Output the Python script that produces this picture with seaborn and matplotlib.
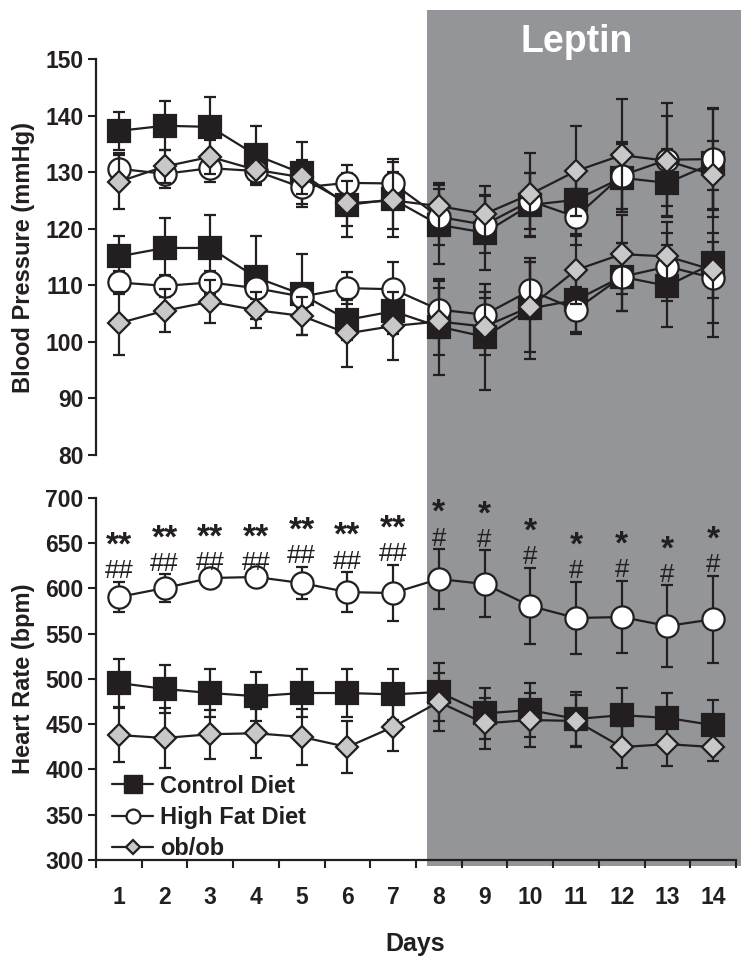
import numpy as np
import pandas as pd
import matplotlib
matplotlib.use("Agg")
import matplotlib.pyplot as plt
import matplotlib.transforms as mtransforms
from matplotlib.patches import Rectangle
from matplotlib.lines import Line2D
import seaborn as sns

# ---------------- data ----------------
days = list(range(1, 15))
day_labels = [str(d) for d in days]
series_names = ["Control Diet", "High Fat Diet", "ob/ob"]

# Blood pressure, upper group (mmHg)
bp_hi_control = [137.3, 138.2, 138.0, 133.0, 129.8, 124.2, 125.2, 120.7, 119.3, 124.2, 125.1, 129.0, 128.1, 131.6]
bp_hi_control_sd = [3.4, 4.3, 5.3, 5.2, 5.5, 5.6, 6.6, 7.0, 6.6, 5.6, 6.0, 6.0, 6.0, 9.5]
bp_hi_hfd = [130.6, 129.7, 130.7, 130.2, 127.3, 128.1, 128.0, 122.1, 120.7, 124.9, 122.1, 129.4, 132.2, 132.3]
bp_hi_hfd_sd = [2.7, 2.5, 2.5, 2.0, 3.4, 3.2, 4.3, 5.0, 5.0, 5.0, 5.0, 6.0, 10.0, 9.0]
bp_hi_obob = [128.3, 131.0, 132.7, 130.4, 129.1, 124.5, 125.0, 124.0, 122.6, 126.1, 130.2, 133.0, 132.0, 129.5]
bp_hi_obob_sd = [4.8, 3.0, 3.0, 2.5, 3.0, 4.0, 5.0, 4.0, 5.0, 7.3, 8.0, 10.0, 8.0, 6.0]

# Blood pressure, lower group (mmHg)
bp_lo_control = [115.1, 116.6, 116.6, 111.4, 108.4, 103.9, 105.4, 102.7, 100.9, 105.9, 107.4, 111.5, 109.9, 113.9]
bp_lo_control_sd = [3.6, 5.3, 5.8, 7.3, 7.1, 3.5, 4.0, 8.5, 9.4, 9.0, 6.0, 6.0, 7.2, 13.0]
bp_lo_hfd = [110.5, 109.9, 110.5, 109.5, 108.0, 109.5, 109.3, 105.7, 104.8, 109.1, 105.7, 111.5, 113.3, 111.3]
bp_lo_hfd_sd = [2.0, 2.0, 2.0, 2.0, 2.0, 2.8, 4.8, 5.0, 4.0, 5.0, 4.0, 6.0, 6.0, 8.0]
bp_lo_obob = [103.3, 105.5, 107.1, 105.6, 104.6, 101.5, 102.8, 103.6, 102.7, 106.2, 112.7, 115.5, 115.1, 112.7]
bp_lo_obob_sd = [5.6, 3.8, 3.8, 3.2, 3.4, 6.0, 6.0, 6.0, 5.0, 8.0, 6.0, 7.0, 6.0, 5.0]

# Heart rate (bpm)
hr_control = [495.6, 489.0, 484.5, 481.0, 484.5, 484.5, 483.0, 485.6, 462.0, 465.7, 455.8, 460.0, 457.0, 449.0]
hr_control_sd = [27, 27, 26, 27, 27, 27, 28, 32, 28, 30, 30, 30, 27, 28]
hr_hfd = [590.6, 600.5, 611.6, 612.7, 606.0, 596.0, 595.0, 610.5, 605.0, 580.7, 567.4, 568.5, 558.6, 566.0]
hr_hfd_sd = [17, 15, 5, 4, 18, 22, 31, 33, 37, 42, 40, 40, 45, 48]
hr_obob = [438.0, 434.8, 439.0, 440.0, 436.0, 424.8, 447.0, 474.6, 451.0, 454.7, 453.6, 424.8, 428.0, 424.8]
hr_obob_sd = [30, 33, 27, 27, 31, 29, 27, 32, 28, 30, 29, 23, 24, 15]

# significance marks above High Fat Diet heart rate
sig_star = ["**"] * 7 + ["*"] * 7
sig_hash = ["##"] * 7 + ["#"] * 7

# ---------------- style ----------------
sns.set_theme(style="white")
plt.rcParams["font.family"] = ["Liberation Sans", "DejaVu Sans"]
plt.rcParams["font.weight"] = "bold"

INK = "#231f20"
SHADE = "#939598"
styles = {
    "Control Diet": dict(marker="s", markersize=16, markerfacecolor=INK),
    "High Fat Diet": dict(marker="o", markersize=16, markerfacecolor="white"),
    "ob/ob": dict(marker="D", markersize=11.5, markerfacecolor="#c8c8c8"),
}
zorders = {"Control Diet": 3, "High Fat Diet": 4, "ob/ob": 5}

fig = plt.figure(figsize=(7.51, 9.64), dpi=100)
ax1 = fig.add_axes([0.1278, 0.528, 0.8522, 0.4108])
ax2 = fig.add_axes([0.1278, 0.1079, 0.8522, 0.3755])
for ax in (ax1, ax2):
    ax.set_facecolor("none")


def draw(ax, name, values, sd):
    z = zorders[name]
    ax.errorbar(days, values, yerr=sd, fmt="none", ecolor=INK, elinewidth=1.6,
                capsize=4, capthick=1.6, zorder=z - 0.5)
    df = pd.DataFrame({"Day": days, "Value": values})
    sns.lineplot(data=df, x="Day", y="Value", ax=ax, color=INK, linewidth=1.6,
                 markeredgecolor=INK, markeredgewidth=1.6, errorbar=None,
                 legend=False, zorder=z, **styles[name])


draw(ax1, "Control Diet", bp_hi_control, bp_hi_control_sd)
draw(ax1, "Control Diet", bp_lo_control, bp_lo_control_sd)
draw(ax1, "High Fat Diet", bp_hi_hfd, bp_hi_hfd_sd)
draw(ax1, "High Fat Diet", bp_lo_hfd, bp_lo_hfd_sd)
draw(ax1, "ob/ob", bp_hi_obob, bp_hi_obob_sd)
draw(ax1, "ob/ob", bp_lo_obob, bp_lo_obob_sd)

draw(ax2, "Control Diet", hr_control, hr_control_sd)
draw(ax2, "High Fat Diet", hr_hfd, hr_hfd_sd)
draw(ax2, "ob/ob", hr_obob, hr_obob_sd)

# significance annotations (placed just above each error bar)
for d, m, s, st, hs in zip(days, hr_hfd, hr_hfd_sd, sig_star, sig_hash):
    top = m + s
    ax2.text(d, top + 4, hs, ha="center", va="baseline", fontsize=18.5,
             fontweight="normal", color=INK, zorder=6)
    ax2.text(d, top + 30, st, ha="center", va="baseline", fontsize=24,
             fontweight="bold", color=INK, zorder=6)

# axes formatting
for ax in (ax1, ax2):
    ax.set_xlim(0.5, 14.5)
    for sp in ("top", "right"):
        ax.spines[sp].set_visible(False)
    ax.spines["left"].set_color(INK)
    ax.spines["left"].set_linewidth(1.6)
    ax.tick_params(axis="y", direction="out", length=6, width=1.5, color=INK,
                   labelsize=16.5, labelcolor=INK, pad=3, left=True)
    ax.set_xlabel("")

ax1.set_ylim(80, 150)
ax1.set_yticks(np.arange(80, 151, 10))
ax1.spines["bottom"].set_visible(False)
ax1.set_xticks([])
ax1.set_ylabel("Blood Pressure (mmHg)", fontsize=17, fontweight="bold", color=INK)
ax1.yaxis.set_label_coords(-0.096, 0.5)

ax2.set_ylim(300, 700)
ax2.set_yticks(np.arange(300, 701, 50))
ax2.spines["bottom"].set_color(INK)
ax2.spines["bottom"].set_linewidth(1.6)
ax2.set_xticks(np.arange(0.5, 14.6, 1.0))
ax2.set_xticklabels([])
ax2.set_xticks(days, minor=True)
ax2.set_xticklabels(day_labels, minor=True)
ax2.tick_params(axis="x", which="major", direction="out", length=6, width=1.5,
                color=INK, bottom=True)
ax2.tick_params(axis="x", which="minor", length=0, pad=19, labelsize=16.5,
                labelcolor=INK, bottom=True)
ax2.set_ylabel("Heart Rate (bpm)", fontsize=17, fontweight="bold", color=INK)
ax2.yaxis.set_label_coords(-0.096, 0.5)
ax2.set_xlabel("Days", fontsize=18, fontweight="bold", color=INK)
ax2.xaxis.set_label_coords(0.498, -0.2)

# legend
handles = [
    Line2D([], [], color=INK, lw=1.6, marker="s", markersize=13,
           markerfacecolor=INK, markeredgecolor=INK, label=series_names[0]),
    Line2D([], [], color=INK, lw=1.6, marker="o", markersize=10,
           markerfacecolor="white", markeredgecolor=INK, markeredgewidth=1.6,
           label=series_names[1]),
    Line2D([], [], color=INK, lw=1.6, marker="D", markersize=7.5,
           markerfacecolor="#c8c8c8", markeredgecolor=INK, markeredgewidth=1.6,
           label=series_names[2]),
]
leg = ax2.legend(handles=handles, loc="upper left", bbox_to_anchor=(0.025, 0.236),
                 frameon=False, fontsize=17, handlelength=1.75, handletextpad=0.3,
                 labelspacing=0.35, borderaxespad=0, borderpad=0)
for t in leg.get_texts():
    t.set_color(INK)
    t.set_fontweight("bold")

# Leptin shaded period spanning both panels
trans = mtransforms.blended_transform_factory(ax2.transData, fig.transFigure)
rect = Rectangle((7.74, 0.1017), 14.6 - 7.74, 0.9896 - 0.1017, transform=trans,
                 facecolor=SHADE, edgecolor="none", zorder=-1)
fig.add_artist(rect)
fig.text(0.768, 0.956, "Leptin", color="white", fontsize=27, fontweight="bold",
         ha="center", va="center")

fig.savefig("out.png", dpi=100)
